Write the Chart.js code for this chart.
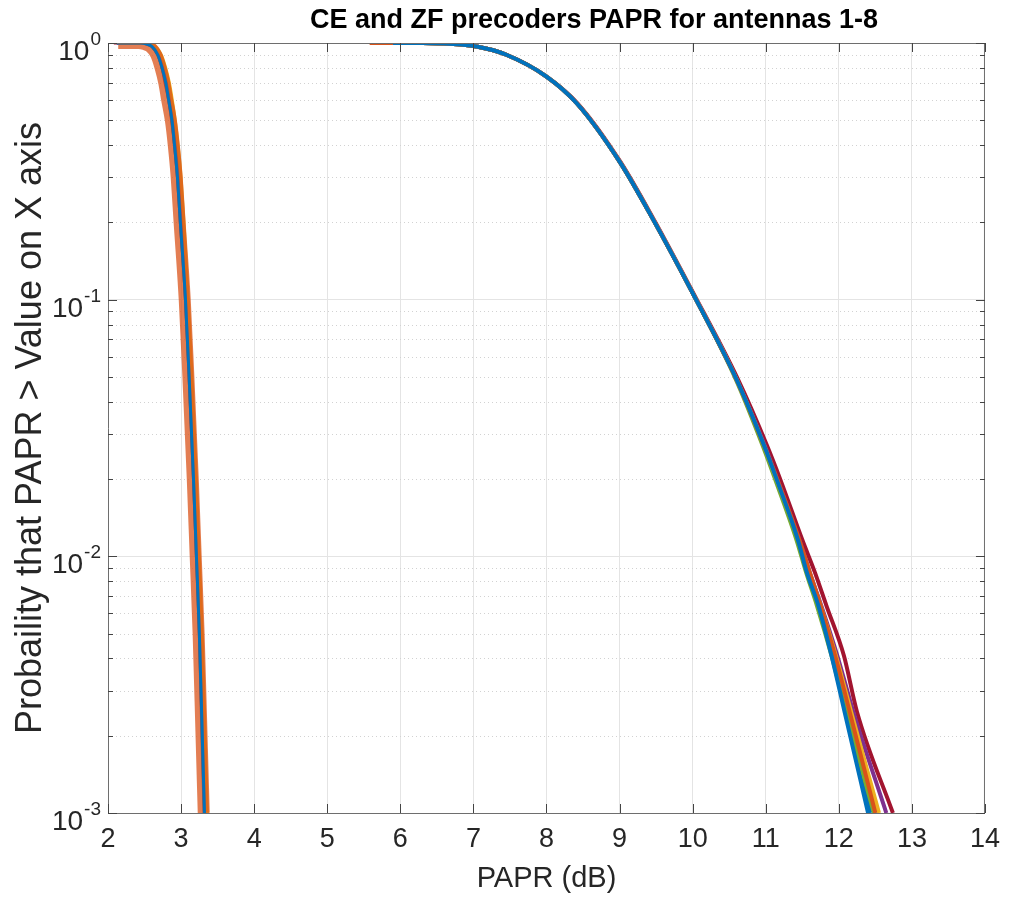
<!DOCTYPE html>
<html lang="en">
  <head>
    <meta charset="UTF-8" />
    <title>CE and ZF precoders PAPR</title>
    <script src="https://cdn.jsdelivr.net/npm/chart.js"></script>
    <style>
      * { margin: 0; padding: 0; box-sizing: border-box; }
      body { background: #ffffff; }
      #wrap { width: 1010px; height: 900px; }
    </style>
  </head>
  <body>
    <div id="wrap"><canvas id="papr"></canvas></div>

    <script>
      // probability levels (CCDF) that each curve is sampled at
      const cePct = [1, 1, 0.99, 0.97, 0.9, 0.8, 0.7, 0.6, 0.5, 0.4, 0.3, 0.2, 0.1, 0.05, 0.02, 0.01, 0.005, 0.002, 0.001];
      const zfPct = [1, 1, 0.995, 0.967, 0.9, 0.74, 0.58, 0.345, 0.205, 0.106, 0.0489, 0.0269, 0.0199, 0.0116, 0.0087, 0.00643, 0.0041, 0.00247, 0.001];

      // CE precoder PAPR (dB), antennas 1-8
      const ceAnt1 = [2.12, 2.45, 2.53, 2.6, 2.68, 2.74, 2.79, 2.83, 2.875, 2.91, 2.95, 2.99, 3.06, 3.11, 3.17, 3.21, 3.25, 3.29, 3.32];
      const ceAnt2 = [2.14, 2.42, 2.5, 2.57, 2.66, 2.72, 2.77, 2.81, 2.86, 2.9, 2.94, 2.98, 3.05, 3.1, 3.16, 3.2, 3.24, 3.28, 3.31];
      const ceAnt3 = [2.16, 2.5, 2.58, 2.65, 2.73, 2.79, 2.84, 2.88, 2.92, 2.96, 3.0, 3.04, 3.1, 3.15, 3.21, 3.25, 3.29, 3.33, 3.36];
      const ceAnt4 = [2.13, 2.46, 2.54, 2.61, 2.69, 2.75, 2.8, 2.84, 2.88, 2.92, 2.96, 3.0, 3.07, 3.12, 3.18, 3.22, 3.26, 3.3, 3.33];
      const ceAnt5 = [2.15, 2.48, 2.56, 2.63, 2.71, 2.77, 2.82, 2.86, 2.9, 2.94, 2.98, 3.02, 3.09, 3.14, 3.2, 3.24, 3.28, 3.32, 3.35];
      const ceAnt6 = [2.14, 2.47, 2.55, 2.62, 2.7, 2.76, 2.81, 2.85, 2.89, 2.93, 2.97, 3.01, 3.08, 3.13, 3.19, 3.23, 3.27, 3.31, 3.345];
      const ceAnt7 = [2.08, 2.45, 2.53, 2.6, 2.68, 2.74, 2.78, 2.83, 2.87, 2.91, 2.95, 2.99, 3.06, 3.11, 3.17, 3.21, 3.25, 3.29, 3.32];
      const ceAnt8 = [2.12, 2.46, 2.54, 2.6, 2.68, 2.74, 2.79, 2.83, 2.875, 2.91, 2.95, 2.99, 3.06, 3.11, 3.17, 3.21, 3.25, 3.285, 3.315];

      // ZF precoder PAPR (dB), antennas 1-8
      const zfAnt1 = [5.9, 6.3, 6.6, 7.06, 7.45, 8.0, 8.42, 9.0, 9.46, 10.0, 10.6, 10.98, 11.15, 11.44, 11.56, 11.72, 11.9, 12.08, 12.4];
      const zfAnt2 = [5.58, 6.3, 6.6, 7.06, 7.45, 8.0, 8.42, 9.0, 9.46, 10.0, 10.6, 10.98, 11.16, 11.46, 11.6, 11.75, 11.95, 12.15, 12.5];
      const zfAnt3 = [5.88, 6.3, 6.6, 7.06, 7.45, 8.0, 8.42, 9.0, 9.46, 10.0, 10.6, 10.98, 11.15, 11.45, 11.59, 11.75, 11.96, 12.17, 12.55];
      const zfAnt4 = [5.86, 6.3, 6.6, 7.06, 7.45, 8.0, 8.42, 9.0, 9.46, 10.0, 10.6, 10.99, 11.16, 11.46, 11.6, 11.76, 11.98, 12.2, 12.65];
      const zfAnt5 = [5.72, 6.3, 6.6, 7.06, 7.45, 8.0, 8.42, 9.0, 9.46, 10.0, 10.59, 10.96, 11.13, 11.42, 11.55, 11.7, 11.9, 12.1, 12.48];
      const zfAnt6 = [5.9, 6.3, 6.6, 7.06, 7.45, 8.0, 8.42, 9.0, 9.46, 10.0, 10.6, 10.97, 11.14, 11.44, 11.57, 11.72, 11.94, 12.14, 12.52];
      const zfAnt7 = [5.8, 6.3, 6.6, 7.06, 7.45, 8.0, 8.43, 9.01, 9.47, 10.01, 10.62, 11.02, 11.2, 11.5, 11.67, 11.83, 12.07, 12.25, 12.74];
      const zfAnt8 = [5.9, 6.3, 6.6, 7.06, 7.45, 8.0, 8.42, 9.0, 9.46, 10.0, 10.6, 10.98, 11.15, 11.45, 11.58, 11.74, 11.93, 12.12, 12.43];

      const xTicks = [2, 3, 4, 5, 6, 7, 8, 9, 10, 11, 12, 13, 14];
      const yTicks = [0.001, 0.002, 0.003, 0.004, 0.005, 0.006, 0.007, 0.008, 0.009,
                      0.01, 0.02, 0.03, 0.04, 0.05, 0.06, 0.07, 0.08, 0.09,
                      0.1, 0.2, 0.3, 0.4, 0.5, 0.6, 0.7, 0.8, 0.9, 1];

      const titleText = "CE and ZF precoders PAPR for antennas 1-8";
      const xLabel = "PAPR (dB)";
      const yLabel = "Probaility that PAPR > Value on X axis";

      const matlabColors = ["#0072BD", "#D95319", "#EDB120", "#7E2F8E", "#77AC30", "#4DBEEE", "#A2142F", "#0072BD"];
      const ceSeries = [ceAnt1, ceAnt2, ceAnt3, ceAnt4, ceAnt5, ceAnt6, ceAnt7, ceAnt8];
      const zfSeries = [zfAnt1, zfAnt2, zfAnt3, zfAnt4, zfAnt5, zfAnt6, zfAnt7, zfAnt8];

      const FONT = "'Liberation Sans', Arial, Helvetica, sans-serif";
      const isDecade = (v) => Math.abs(Math.log10(v) - Math.round(Math.log10(v))) < 1e-9;

      const toPoints = (xs, ps) => xs.map((x, i) => ({ x: x, y: ps[i] }));

      const datasets = [];
      ceSeries.forEach((s, i) => {
        datasets.push({
          label: "CE antenna " + (i + 1),
          data: toPoints(s, cePct),
          // antenna 2 of CE is a wide, fuzzy band in the original
          borderColor: i === 1 ? "rgba(217, 83, 25, 0.75)" : matlabColors[i],
          borderWidth: i === 1 ? 12 : 3,
        });
      });
      zfSeries.forEach((s, i) => {
        datasets.push({
          label: "ZF antenna " + (i + 1),
          data: toPoints(s, zfPct),
          borderColor: matlabColors[i],
          borderWidth: 4,
        });
      });

      // box, inward ticks, dotted minor grid, y labels with exponents, titles
      const decor = {
        id: "decor",
        beforeDatasetsDraw(chart) {
          const { ctx, chartArea: a, scales } = chart;
          ctx.save();
          ctx.strokeStyle = "#d2d2d2";
          ctx.lineWidth = 1;
          ctx.setLineDash([1, 3]);
          yTicks.forEach((v) => {
            if (isDecade(v)) return;
            const y = Math.round(scales.y.getPixelForValue(v)) + 0.5;
            ctx.beginPath();
            ctx.moveTo(a.left, y);
            ctx.lineTo(a.right, y);
            ctx.stroke();
          });
          ctx.restore();
        },
        afterDraw(chart) {
          const { ctx, chartArea: a, scales } = chart;
          ctx.save();
          ctx.strokeStyle = "#6e6e6e";
          ctx.lineWidth = 1;
          ctx.beginPath();
          ctx.moveTo(a.left, a.top + 0.5);
          ctx.lineTo(a.right, a.top + 0.5);
          ctx.moveTo(a.right - 0.5, a.top);
          ctx.lineTo(a.right - 0.5, a.bottom);
          ctx.stroke();

          ctx.strokeStyle = "#444";
          ctx.beginPath();
          xTicks.forEach((v) => {
            const x = Math.round(scales.x.getPixelForValue(v)) + 0.5;
            ctx.moveTo(x, a.bottom);
            ctx.lineTo(x, a.bottom - 9);
            ctx.moveTo(x, a.top);
            ctx.lineTo(x, a.top + 9);
          });
          yTicks.forEach((v) => {
            const y = Math.round(scales.y.getPixelForValue(v)) + 0.5;
            const len = isDecade(v) ? 9 : 5;
            ctx.moveTo(a.left, y);
            ctx.lineTo(a.left + len, y);
            ctx.moveTo(a.right, y);
            ctx.lineTo(a.right - len, y);
          });
          ctx.stroke();

          // y tick labels as 10^n
          ctx.fillStyle = "#262626";
          ctx.textAlign = "right";
          ctx.textBaseline = "alphabetic";
          yTicks.filter(isDecade).forEach((v) => {
            const y = scales.y.getPixelForValue(v);
            const exp = String(Math.round(Math.log10(v)));
            ctx.font = "19px " + FONT;
            const ew = ctx.measureText(exp).width;
            ctx.fillText(exp, 101, y + 2);
            ctx.font = "28px " + FONT;
            ctx.fillText("10", 101 - ew - 1, y + 17);
          });

          // title
          ctx.fillStyle = "#000";
          ctx.textAlign = "center";
          ctx.textBaseline = "middle";
          ctx.font = "bold 27px " + FONT;
          ctx.fillText(titleText, 594, 21);

          // x axis title
          ctx.fillStyle = "#262626";
          ctx.font = "29px " + FONT;
          ctx.fillText(xLabel, (a.left + a.right) / 2, 879);

          // y axis title
          ctx.font = "36px " + FONT;
          ctx.translate(31, (a.top + a.bottom) / 2);
          ctx.rotate(-Math.PI / 2);
          ctx.fillText(yLabel, 0, 0);
          ctx.restore();
        },
      };

      new Chart(document.getElementById("papr"), {
        type: "line",
        data: { datasets: datasets },
        plugins: [decor],
        options: {
          responsive: true,
          maintainAspectRatio: false,
          animation: false,
          layout: { padding: { top: 43, right: 20, left: 0, bottom: 0 } },
          elements: {
            point: { radius: 0 },
            line: { tension: 0, cubicInterpolationMode: "monotone", fill: false },
          },
          plugins: {
            legend: { display: false },
            title: { display: false },
            tooltip: { enabled: false },
          },
          scales: {
            x: {
              type: "linear",
              min: 2,
              max: 14,
              afterFit: (s) => { s.height = 87; },
              afterBuildTicks: (s) => { s.ticks = xTicks.map((v) => ({ value: v })); },
              ticks: {
                autoSkip: false,
                padding: 10,
                color: "#262626",
                font: { family: FONT, size: 27 },
              },
              grid: { color: "#e4e4e4", drawTicks: false },
              border: { color: "#6e6e6e" },
            },
            y: {
              type: "logarithmic",
              min: 0.001,
              max: 1,
              afterFit: (s) => { s.width = 108; },
              afterBuildTicks: (s) => {
                s.ticks = yTicks.map((v) => ({ value: v, major: isDecade(v) }));
              },
              ticks: { autoSkip: false, display: false },
              grid: {
                drawTicks: false,
                color: (c) => (c.tick && isDecade(c.tick.value) ? "#e4e4e4" : "rgba(0,0,0,0)"),
              },
              border: { color: "#6e6e6e" },
            },
          },
        },
      });
    </script>
  </body>
</html>
